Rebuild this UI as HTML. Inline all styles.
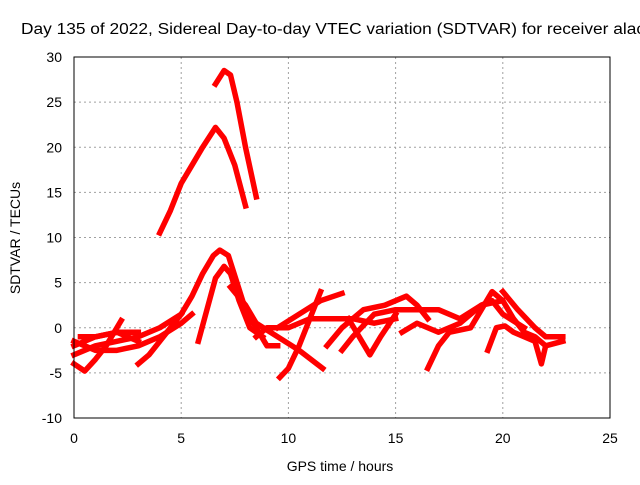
<!DOCTYPE html>
<html><head><meta charset="utf-8"><style>
body{margin:0;background:#fff}
svg{font-family:"Liberation Sans",sans-serif;font-size:14px}
</style></head><body>
<svg id="chart" width="640" height="480">
<rect width="640" height="480" fill="#fff"/>
<text x="21" y="34" font-size="15.5" textLength="624" lengthAdjust="spacingAndGlyphs">Day 135 of 2022, Sidereal Day-to-day VTEC variation (SDTVAR) for receiver alac</text>
<g id="grid"></g>
<g id="marks"></g>
<rect x="74" y="57" width="536" height="361" fill="none" stroke="#000"/>
<g id="ticks"></g>
<text x="340" y="471" text-anchor="middle">GPS time / hours</text>
<text transform="translate(20,238) rotate(-90)" text-anchor="middle">SDTVAR / TECUs</text>
</svg>
<script>
const xTicks=[0,5,10,15,20,25];
const yTicks=[-10,-5,0,5,10,15,20,25,30];
const tracks=[
[[6.6,27],[7,28.5],[7.3,28],[7.6,25],[8,20],[8.5,14.5]],
[[4,10.5],[4.5,13],[5,16],[5.5,18],[6,20],[6.6,22.2],[7,21],[7.5,18],[8,13.5]],
[[0,-3],[1,-2],[2,-1.5],[3,-1],[4,0],[5,1.5],[5.5,3.5],[6,6],[6.5,8],[6.8,8.6],[7.2,8],[7.6,5],[8,2],[8.5,0],[9,-2],[9.5,-2]],
[[5.8,-1.5],[6.2,2],[6.6,5.5],[7,6.8],[7.3,6],[7.7,3],[8.2,0],[8.8,-1]],
[[7.3,4.5],[8,2.5],[8.5,0.5],[9.5,-1],[10.5,-2.5],[11.6,-4.5]],
[[9.6,-5.5],[10,-4.5],[10.5,-2],[11,1],[11.5,4]],
[[8.5,-1],[9,0],[10,0],[11,1],[12,1],[13,1],[14,0.5],[15,1]],
[[9.5,0],[10.5,1.5],[11.5,3],[12.5,3.8]],
[[11.8,-2],[12.5,0],[13.5,2],[14.5,2.5],[15.5,3.5],[16,2.5],[16.5,1]],
[[12.5,-2.5],[13,-1],[14,1.5],[15,2],[16,2],[17,2],[18,1],[19,2.5],[20,3]],
[[12.8,1],[13.3,-1],[13.8,-3],[14.3,-1],[15,1.5]],
[[16.5,-4.5],[17,-2],[17.5,-0.5],[18.5,0],[19,2],[19.5,4],[20,3],[20.5,1],[21,-0.5],[21.5,-1],[22,-2]],
[[19.3,-2.5],[19.7,0],[20.1,0.2],[20.5,-0.5],[21.5,-1.5],[21.8,-4],[22,-2],[22.8,-1.5]],
[[20,4],[20.7,2],[21.5,0],[22,-1],[22.8,-1]],
[[15.3,-0.5],[16,0.5],[17,-0.5],[18,0.5],[19,2.5],[19.5,3],[20,1.5],[21,0]],
[[0,-4],[0.5,-4.8],[1,-3.5],[1.5,-2],[2,0],[2.2,0.8]],
[[0,-2],[1,-1],[2,-0.5],[3,-0.5]],
[[3,-4],[3.5,-3],[4,-1.5],[4.5,0],[5,1.5]],
[[0,-1.5],[1,-2.5],[2,-2.5],[3,-2],[4,-1],[5,0.5],[5.5,1.5]],
[[0.3,-1],[1,-1],[2,-0.5],[2.5,-1],[3,-1.5]]
];
const NS="http://www.w3.org/2000/svg";
function X(h){return 74+h*536/25;}
function Y(v){return 418-(v+10)*361/40;}
const grid=document.getElementById('grid'),ticks=document.getElementById('ticks'),marks=document.getElementById('marks');
function mk(tag,attrs,parent){const e=document.createElementNS(NS,tag);for(const k in attrs)e.setAttribute(k,attrs[k]);parent.appendChild(e);return e;}
xTicks.forEach(t=>{
  if(t>0&&t<25){const g=mk('line',{x1:X(t),x2:X(t),y1:57,y2:418,stroke:'#a0a0a0','stroke-dasharray':'2,3'},grid);
  
  }
  const l=mk('text',{x:X(t),y:443,'text-anchor':'middle'},ticks);l.textContent=t;
  
  
});
yTicks.forEach(t=>{
  if(t>-10&&t<30){const g=mk('line',{x1:74,x2:610,y1:Y(t),y2:Y(t),stroke:'#a0a0a0','stroke-dasharray':'2,3'},grid);
  
  }
  const l=mk('text',{x:62,y:Y(t)+5,'text-anchor':'end'},ticks);l.textContent=t;
  
  
});
tracks.forEach((tr,i)=>{
  const p=mk('polyline',{points:tr.map(d=>X(d[0])+','+Y(d[1])).join(' '),fill:'none',stroke:'#ff0000','stroke-width':5.5,'stroke-linejoin':'round','stroke-linecap':'square'},marks);
  
  
});
</script>
</body></html>
